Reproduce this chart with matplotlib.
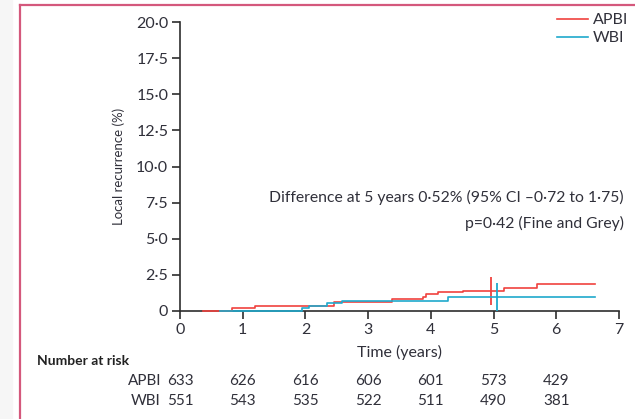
import matplotlib.pyplot as plt
from matplotlib.lines import Line2D
from matplotlib.patches import Rectangle

plt.rcParams['font.family'] = ['Lato', 'DejaVu Sans']

# Cumulative incidence of local recurrence (%), step curves
apbi_t = [0.37, 0.83, 1.2, 2.45, 3.38, 3.87, 3.93, 4.12, 4.52, 5.16, 5.69, 6.62]
apbi_y = [0, 0.19, 0.37, 0.64, 0.81, 0.99, 1.15, 1.32, 1.40, 1.57, 1.85, 1.85]
wbi_t = [0.64, 1.94, 2.05, 2.34, 2.58, 4.28, 6.62]
wbi_y = [0, 0.19, 0.33, 0.53, 0.69, 0.97, 0.97]

# censor ticks at 5 years
apbi_mark = (4.96, 1.40)
wbi_mark = (5.06, 0.97)

years = [0, 1, 2, 3, 4, 5, 6, 7]
yticks = [0, 2.5, 5, 7.5, 10, 12.5, 15, 17.5, 20]
ytick_labels = ["0", "2·5", "5·0", "7·5", "10·0", "12·5", "15·0", "17·5", "20·0"]

risk_apbi = [633, 626, 616, 606, 601, 573, 429]
risk_wbi = [551, 543, 535, 522, 511, 490, 381]

red = "#f0423e"
blue = "#1fa9cc"
dark = "#2e2e2e"
txt = "#30303a"

fig = plt.figure(figsize=(6.35, 4.19), dpi=100)
ax = fig.add_axes([180 / 635, 1 - 311 / 419, 439 / 635, 289 / 419])

ax.step(apbi_t, apbi_y, where="post", color=red, lw=1.2, clip_on=False, zorder=4, label="APBI")
ax.step(wbi_t, wbi_y, where="post", color=blue, lw=1.2, clip_on=False, zorder=5, label="WBI")
ax.plot(*apbi_mark, marker="|", ms=19.5, mew=1.3, color=red, clip_on=False, zorder=4)
ax.plot(*wbi_mark, marker="|", ms=19.5, mew=1.3, color=blue, clip_on=False, zorder=5)

ax.set_xlim(0, 7)
ax.set_ylim(0, 20)
ax.set_xticks(years)
ax.set_yticks(yticks)
ax.set_yticklabels(ytick_labels)
for s in ["top", "right"]:
    ax.spines[s].set_visible(False)
for s in ["left", "bottom"]:
    ax.spines[s].set_color(dark)
    ax.spines[s].set_linewidth(1.2)
ax.tick_params(direction="out", length=6, width=1.2, color=dark, labelsize=11.5,
               labelcolor=txt, pad=2.5)

ax.set_xlabel("Time (years)", fontsize=11.5, color=txt, labelpad=6)
ax.set_ylabel("Local recurrence (%)", fontsize=9.5, color=txt)
ax.yaxis.set_label_coords(-0.125, 0.5)

ax.legend(loc="upper right", bbox_to_anchor=(628 / 635, 1 - 13 / 419),
          bbox_transform=fig.transFigure, frameon=False, fontsize=11.5,
          handlelength=1.9, handletextpad=0.3, labelspacing=0.25,
          borderaxespad=0, borderpad=0, labelcolor=txt)

ax.text(624 / 635, 1 - 197 / 419, "Difference at 5 years 0·52% (95% CI –0·72 to 1·75)",
        transform=fig.transFigure, ha="right", va="center", fontsize=11.3, color=txt)
ax.text(624 / 635, 1 - 223 / 419, "p=0·42 (Fine and Grey)",
        transform=fig.transFigure, ha="right", va="center", fontsize=11.3, color=txt)

# number at risk table
fig.text(37 / 635, 1 - 361 / 419, "Number at risk", fontsize=10, fontweight="bold",
         color="#222222", va="center")
row_y = [1 - 381 / 419, 1 - 401 / 419]
for name, row, y in [("APBI", risk_apbi, row_y[0]), ("WBI", risk_wbi, row_y[1])]:
    fig.text(161 / 635, y, name, fontsize=11, color=txt, ha="right", va="center")
    for x, n in zip(years, row):
        xf = fig.transFigure.inverted().transform(ax.transData.transform((x, 0)))[0]
        fig.text(xf, y, str(n), fontsize=11, color=txt, ha="center", va="center")

# page decoration: grey margin and pink frame
fig.patches.append(Rectangle((0, 0), 12 / 635, 1, transform=fig.transFigure,
                             color="#f6f6f6", zorder=0))
fig.add_artist(Line2D([20 / 635, 20 / 635], [0, 1 - 5 / 419], color="#d4587c", lw=1.6))
fig.add_artist(Line2D([20 / 635, 1], [1 - 5 / 419, 1 - 5 / 419], color="#d4587c", lw=1.6))

fig.savefig("out.png", dpi=100)
